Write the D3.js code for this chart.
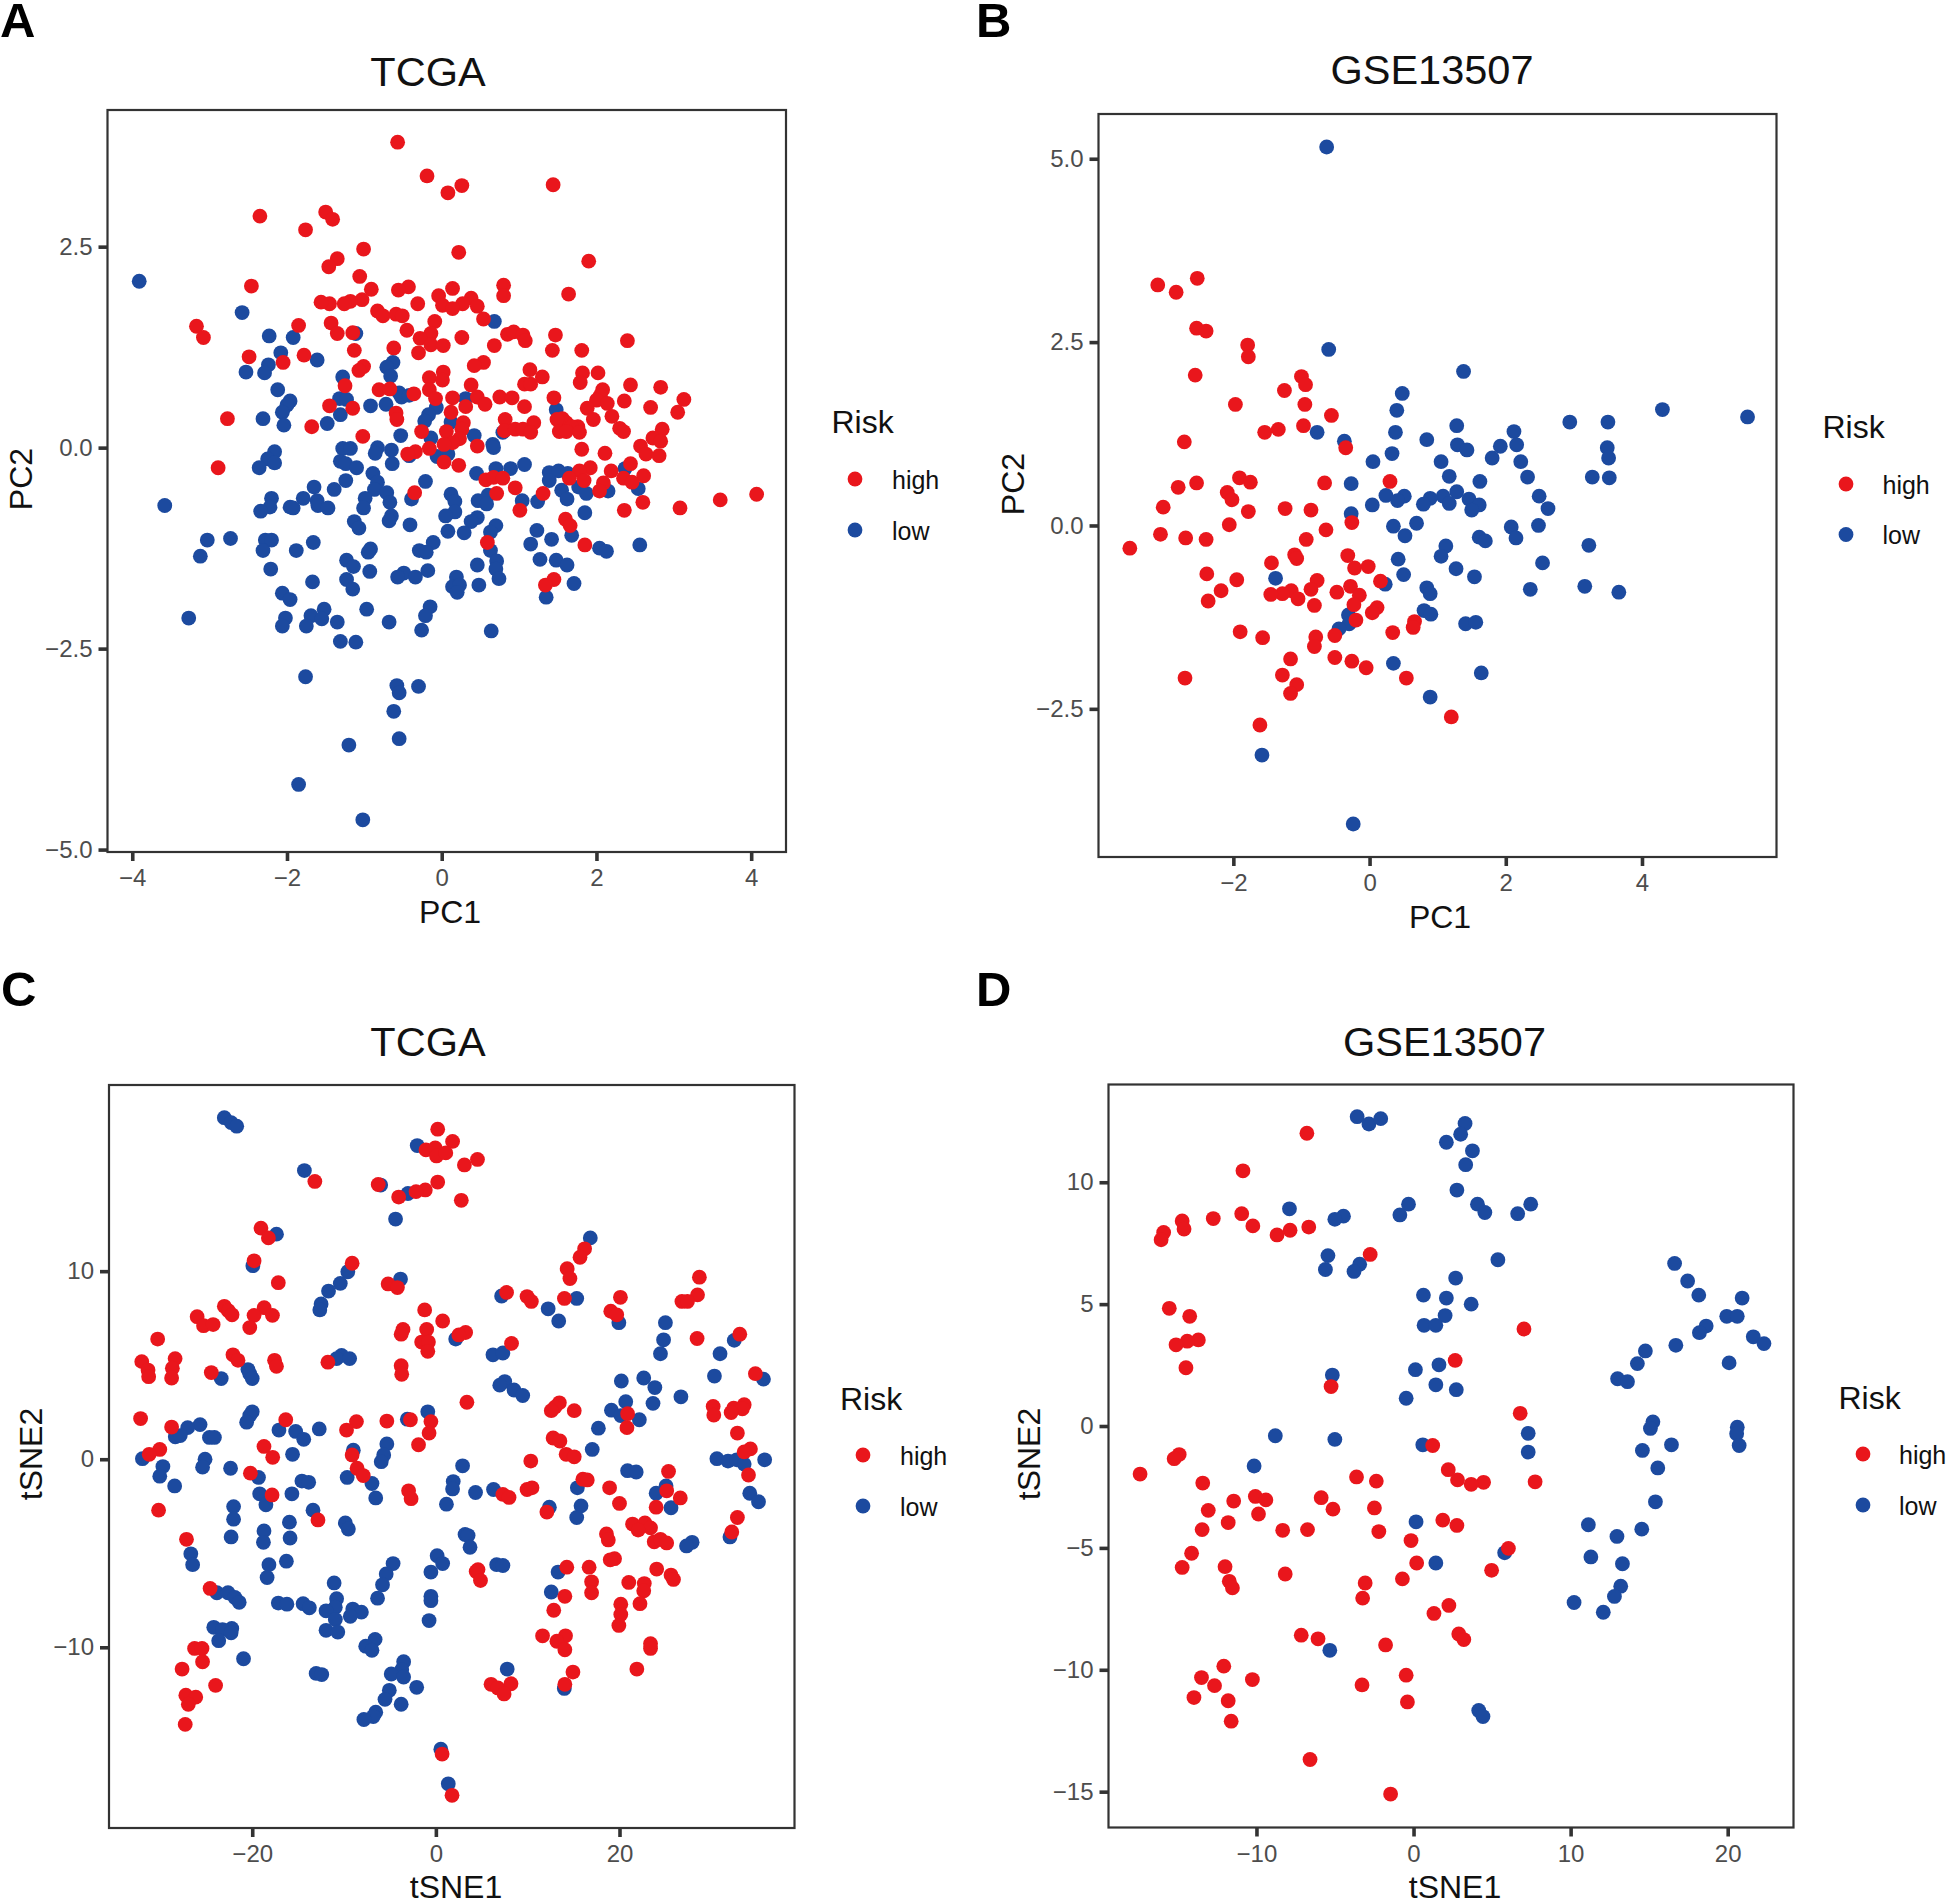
<!DOCTYPE html>
<html><head><meta charset="utf-8">
<script src="https://cdn.jsdelivr.net/npm/d3@7"></script>
<style>
html,body{margin:0;padding:0;background:#fff}
svg{display:block}
text{font-family:"Liberation Sans",Arial,sans-serif}
</style></head><body><div id="chart"></div>
<script>
const seriesNames = ["high","low"];
const colors = {high:"#E9161C", low:"#1C4A9F"};

const aHigh = [[-0.57,3.80],[-0.19,3.38],[0.08,3.17],[0.26,3.26],[1.44,3.27],[-1.50,2.93],[-1.41,2.84],[-2.35,2.88],[-1.76,2.71],[-1.01,2.47],[0.22,2.43],[1.90,2.32],[-1.35,2.35],[-1.46,2.25],[-1.06,2.13],[-2.46,2.01],[0.80,2.02],[0.80,1.89],[1.64,1.91],[-0.43,2.00],[-0.56,1.96],[-0.91,1.97],[0.14,1.98],[-0.04,1.89],[0.38,1.86],[0.46,1.76],[0.27,1.79],[0.01,1.77],[0.14,1.73],[-0.31,1.79],[-1.03,1.84],[-1.18,1.82],[-1.26,1.79],[-1.45,1.79],[-1.56,1.81],[-0.83,1.70],[-0.76,1.64],[-0.59,1.66],[-0.51,1.64],[0.54,1.60],[-0.09,1.57],[-1.43,1.55],[-1.85,1.52],[-3.17,1.51],[-3.08,1.37],[-0.45,1.46],[-1.35,1.42],[-1.15,1.43],[-0.14,1.42],[-0.28,1.36],[-0.14,1.28],[0.02,1.27],[0.26,1.37],[0.68,1.27],[0.85,1.41],[0.93,1.44],[1.05,1.40],[1.08,1.33],[1.47,1.40],[1.43,1.21],[1.81,1.21],[2.40,1.33],[-0.62,1.24],[-0.30,1.18],[-1.13,1.21],[-2.49,1.13],[-1.78,1.15],[-2.05,1.06],[0.54,1.06],[0.42,1.02],[-1.01,1.01],[-1.07,0.96],[0.02,0.94],[1.14,0.97],[1.82,0.93],[2.02,0.93],[-0.16,0.87],[0.01,0.84],[1.30,0.88],[1.07,0.79],[1.15,0.79],[1.79,0.81],[2.44,0.78],[2.83,0.75],[-1.25,0.77],[0.38,0.78],[-0.81,0.72],[-0.67,0.73],[-0.16,0.72],[-0.36,0.67],[2.08,0.72],[2.05,0.65],[0.75,0.63],[0.91,0.62],[0.46,0.63],[-0.08,0.61],[0.14,0.62],[1.45,0.62],[2.00,0.59],[2.14,0.55],[2.36,0.58],[3.13,0.60],[2.70,0.50],[0.56,0.54],[0.31,0.51],[-1.45,0.52],[-1.15,0.49],[1.07,0.51],[1.88,0.49],[0.12,0.44],[-0.59,0.43],[3.05,0.44],[2.20,0.39],[1.96,0.35],[-2.77,0.36],[-0.58,0.35],[0.82,0.35],[1.19,0.31],[1.56,0.36],[1.61,0.31],[1.49,0.35],[1.76,0.26],[1.68,0.26],[-1.68,0.26],[0.28,0.31],[0.26,0.23],[2.30,0.24],[2.35,0.20],[2.85,0.23],[0.81,0.21],[0.95,0.23],[1.05,0.23],[1.15,0.19],[1.52,0.20],[1.61,0.20],[1.78,0.19],[-0.26,0.20],[0.06,0.20],[-1.02,0.14],[0.23,0.11],[2.73,0.12],[2.83,0.08],[0.14,0.06],[0.03,0.04],[-0.16,-0.01],[0.46,0.02],[2.57,0.02],[1.81,-0.02],[-0.34,-0.05],[-0.44,-0.08],[2.11,-0.07],[2.64,-0.08],[2.81,-0.10],[0.03,-0.18],[0.22,-0.22],[-2.89,-0.25],[2.44,-0.20],[1.92,-0.25],[1.78,-0.29],[2.19,-0.29],[2.61,-0.35],[2.35,-0.38],[2.46,-0.43],[1.65,-0.38],[1.84,-0.41],[0.57,-0.40],[0.67,-0.37],[0.79,-0.38],[2.09,-0.44],[2.04,-0.54],[0.95,-0.50],[0.71,-0.57],[-0.35,-0.56],[1.31,-0.57],[3.60,-0.65],[4.07,-0.58],[3.08,-0.75],[2.60,-0.68],[2.36,-0.78],[1.01,-0.78],[1.60,-0.89],[1.66,-0.97],[0.59,-1.18],[1.85,-1.21],[1.45,-1.64],[1.34,-1.71]];

const aLow = [[-3.91,2.07],[-2.58,1.68],[-2.23,1.39],[-1.92,1.37],[-1.11,1.42],[0.68,1.57],[-2.08,1.18],[-2.24,1.03],[-2.29,0.93],[-2.53,0.94],[-1.61,1.09],[-1.28,0.88],[-0.63,1.06],[-0.71,1.00],[-0.66,0.89],[-2.12,0.72],[-1.32,0.61],[-1.23,0.60],[-0.55,0.68],[-0.52,0.63],[-0.42,0.65],[-1.96,0.58],[-2.00,0.53],[-2.06,0.44],[-0.92,0.52],[-0.72,0.54],[0.31,0.61],[-0.07,0.50],[-0.17,0.41],[-0.22,0.33],[0.12,0.32],[1.48,0.47],[-2.31,0.36],[-1.31,0.41],[-2.04,0.28],[-1.48,0.30],[-0.14,0.12],[-0.53,0.15],[0.42,0.15],[0.79,0.19],[0.66,0.04],[0.67,0.00],[-1.28,-0.01],[-1.18,-0.01],[-0.83,0.00],[-0.86,-0.07],[-0.65,-0.03],[-2.16,-0.05],[-2.25,-0.14],[-2.16,-0.19],[-2.36,-0.25],[-1.31,-0.17],[-1.24,-0.20],[-0.64,-0.20],[-0.42,-0.10],[-0.06,-0.11],[0.08,-0.08],[-1.10,-0.25],[1.07,-0.21],[0.89,-0.26],[0.70,-0.26],[0.45,-0.32],[-0.89,-0.32],[-1.24,-0.41],[-0.83,-0.43],[-0.21,-0.42],[1.39,-0.31],[1.51,-0.29],[1.63,-0.32],[1.39,-0.41],[2.37,-0.26],[-1.65,-0.49],[-1.39,-0.52],[-0.87,-0.52],[-0.71,-0.56],[1.55,-0.53],[1.77,-0.49],[1.87,-0.57],[2.15,-0.54],[2.54,-0.51],[-3.58,-0.72],[-2.20,-0.63],[-1.79,-0.63],[-1.61,-0.66],[-0.99,-0.63],[-0.67,-0.68],[-0.39,-0.64],[0.12,-0.58],[0.17,-0.67],[0.47,-0.66],[0.60,-0.59],[0.58,-0.70],[1.04,-0.66],[1.24,-0.67],[1.62,-0.64],[-2.22,-0.74],[-2.34,-0.79],[-1.96,-0.74],[-1.92,-0.75],[-1.60,-0.72],[-1.47,-0.75],[-1.01,-0.75],[0.17,-0.80],[0.05,-0.85],[0.46,-0.87],[1.85,-0.81],[-0.65,-0.85],[-0.68,-0.91],[-1.13,-0.92],[-0.41,-0.96],[-1.07,-1.00],[0.38,-0.92],[0.70,-0.97],[0.08,-1.04],[0.29,-1.06],[0.63,-1.05],[1.23,-1.03],[1.68,-1.09],[-3.03,-1.15],[-2.73,-1.13],[-2.28,-1.15],[-2.20,-1.15],[1.42,-1.14],[-0.11,-1.18],[-1.66,-1.18],[1.15,-1.20],[2.56,-1.21],[2.04,-1.25],[2.13,-1.29],[-2.31,-1.28],[-1.88,-1.28],[-0.92,-1.26],[-0.95,-1.30],[-0.29,-1.28],[-0.20,-1.30],[0.63,-1.28],[-3.12,-1.35],[1.27,-1.39],[1.48,-1.40],[0.71,-1.41],[-1.23,-1.40],[0.46,-1.46],[1.62,-1.46],[-1.14,-1.48],[-2.21,-1.51],[0.70,-1.51],[-0.93,-1.54],[-0.18,-1.53],[-0.49,-1.56],[-0.57,-1.61],[-0.34,-1.61],[0.19,-1.61],[0.74,-1.63],[-1.23,-1.64],[-1.67,-1.67],[1.71,-1.69],[0.48,-1.71],[0.14,-1.73],[0.23,-1.71],[-1.15,-1.76],[0.20,-1.80],[-2.06,-1.81],[-1.96,-1.89],[1.35,-1.86],[-0.15,-1.98],[-1.52,-2.01],[-0.97,-2.01],[-0.21,-2.09],[-1.69,-2.09],[-3.27,-2.12],[-2.02,-2.12],[-1.55,-2.13],[-1.35,-2.17],[-0.68,-2.17],[-2.06,-2.22],[-1.75,-2.22],[-0.26,-2.27],[0.64,-2.28],[-1.31,-2.41],[-1.11,-2.42],[-1.76,-2.85],[-0.58,-2.96],[-0.30,-2.97],[-0.55,-3.05],[-0.62,-3.28],[-0.55,-3.62],[-1.20,-3.70],[-1.85,-4.19],[-1.02,-4.63]];

const bHigh = [[-2.53,3.37],[-3.11,3.28],[-2.84,3.18],[-2.54,2.69],[-2.40,2.65],[-1.79,2.46],[-1.78,2.30],[-2.56,2.05],[-1.00,2.03],[-0.94,1.92],[-1.25,1.84],[-0.95,1.65],[-1.97,1.65],[-0.56,1.50],[-0.97,1.36],[-1.34,1.31],[-1.54,1.27],[-2.72,1.14],[-0.35,1.06],[-1.91,0.65],[-1.75,0.59],[-2.54,0.58],[-2.81,0.52],[-0.66,0.58],[0.30,0.60],[-2.09,0.45],[-2.02,0.35],[-3.03,0.25],[-1.24,0.23],[-0.86,0.21],[-1.78,0.19],[-2.06,0.01],[-0.26,0.04],[-0.64,-0.06],[-3.07,-0.12],[-2.70,-0.17],[-2.40,-0.19],[-0.93,-0.19],[-3.52,-0.31],[-1.10,-0.40],[-1.07,-0.45],[-0.32,-0.41],[-1.44,-0.51],[-0.02,-0.56],[-0.22,-0.58],[-2.39,-0.66],[-1.95,-0.74],[-0.77,-0.75],[0.16,-0.76],[-0.28,-0.83],[-2.18,-0.89],[-0.86,-0.87],[-1.15,-0.89],[-0.48,-0.91],[-1.28,-0.93],[-1.45,-0.94],[-0.15,-0.95],[-1.05,-1.00],[-2.37,-1.03],[-0.23,-1.08],[-0.81,-1.09],[0.11,-1.12],[0.04,-1.19],[-0.20,-1.29],[0.66,-1.31],[0.64,-1.39],[-1.90,-1.45],[0.34,-1.46],[-1.57,-1.53],[-0.51,-1.50],[-0.79,-1.52],[-0.81,-1.65],[-0.51,-1.80],[-1.16,-1.82],[-0.26,-1.85],[-0.05,-1.94],[-1.28,-2.04],[0.54,-2.08],[-2.71,-2.08],[-1.07,-2.17],[-1.16,-2.29],[1.20,-2.61],[-1.61,-2.72]];

const bLow = [[-0.63,5.16],[-0.60,2.40],[1.38,2.10],[0.48,1.80],[0.40,1.57],[4.30,1.58],[5.55,1.48],[2.94,1.41],[3.50,1.41],[1.28,1.36],[-0.77,1.27],[0.38,1.27],[2.12,1.28],[-0.37,1.15],[0.84,1.17],[1.29,1.10],[2.16,1.10],[1.92,1.08],[1.43,1.03],[3.49,1.06],[0.33,0.98],[1.80,0.92],[3.51,0.92],[0.05,0.87],[1.05,0.87],[2.22,0.87],[1.17,0.67],[2.32,0.66],[3.27,0.66],[3.52,0.65],[1.62,0.60],[-0.27,0.57],[1.28,0.46],[0.24,0.41],[0.51,0.40],[1.08,0.40],[0.89,0.37],[2.49,0.40],[0.41,0.34],[1.46,0.36],[0.79,0.29],[1.17,0.30],[0.04,0.28],[1.61,0.28],[1.50,0.21],[2.62,0.23],[-0.27,0.16],[0.69,0.03],[0.35,-0.01],[2.08,-0.02],[2.48,0.00],[0.52,-0.14],[1.61,-0.16],[2.15,-0.17],[1.70,-0.21],[3.22,-0.27],[1.12,-0.28],[1.05,-0.42],[0.42,-0.46],[2.54,-0.51],[1.27,-0.59],[0.50,-0.67],[1.54,-0.70],[-1.38,-0.72],[0.23,-0.80],[3.16,-0.83],[0.84,-0.85],[2.36,-0.87],[0.89,-0.93],[3.66,-0.91],[0.80,-1.16],[0.90,-1.21],[-0.31,-1.22],[-0.30,-1.34],[1.41,-1.34],[1.56,-1.32],[-0.45,-1.41],[0.35,-1.88],[1.64,-2.01],[0.89,-2.34],[-1.58,-3.13],[-0.24,-4.07]];

const cHigh = [[0.2,17.55],[1.82,16.9],[-1.08,16.45],[-0.07,16.55],[0.07,16.13],[1.08,16.29],[4.53,15.94],[3.11,15.65],[-13.18,14.77],[-6.28,14.61],[0.2,14.74],[-1.15,14.32],[-2.16,14.23],[-4.05,13.94],[2.77,13.77],[-19.05,12.29],[-18.24,11.77],[16.2,11.19],[15.7,10.74],[-19.8,10.55],[-9.12,10.42],[14.3,10.13],[14.6,9.61],[28.7,9.68],[-17.16,9.39],[-5.2,9.32],[-4.19,9.13],[7.7,8.87],[9.93,8.65],[10.4,8.39],[14.0,8.55],[20.1,8.61],[28.5,8.74],[26.8,8.39],[27.4,8.39],[-1.22,7.94],[-23.04,8.13],[-22.6,7.9],[-22.2,7.68],[-18.7,8.06],[-17.8,7.65],[-19.8,7.65],[19.05,7.87],[19.7,7.68],[-26.0,7.58],[-25.3,7.1],[-24.26,7.16],[-20.27,7.0],[0.74,7.35],[-1.0,6.9],[-3.58,6.9],[-3.78,6.65],[3.24,6.74],[2.5,6.61],[33.1,6.65],[28.45,6.42],[-30.3,6.39],[8.24,6.16],[-1.55,6.23],[-0.81,6.23],[-0.88,5.74],[-22.1,5.55],[-21.55,5.26],[-32.03,5.19],[-28.4,5.35],[-17.57,5.26],[-17.36,4.94],[-11.76,5.16],[-28.7,4.84],[-31.35,4.74],[-3.78,4.97],[-3.72,4.52],[-24.46,4.61],[34.8,4.55],[-31.28,4.39],[-28.78,4.32],[3.38,3.03],[30.2,2.81],[13.45,3.0],[12.97,2.77],[12.57,2.58],[15.07,2.58],[33.58,2.9],[32.43,2.71],[33.38,2.68],[32.16,2.48],[30.27,2.35],[-32.16,2.16],[20.88,2.42],[-16.35,2.1],[-8.65,2.0],[-5.34,2.03],[-2.77,2.1],[-0.54,2.0],[-28.78,1.71],[-9.73,1.55],[20.81,1.68],[-0.74,1.39],[32.84,1.39],[12.77,1.13],[13.51,0.97],[-18.72,0.68],[-1.89,0.77],[-30.07,0.52],[34.26,0.55],[33.58,0.39],[-31.22,0.26],[-9.12,0.23],[14.19,0.26],[15.07,0.13],[-17.77,0.1],[10.34,-0.1],[-8.58,-0.48],[-7.91,-0.87],[-20.2,-0.74],[25.34,-0.65],[34.05,-0.84],[16.01,-1.06],[16.49,-1.1],[18.92,-1.52],[25.14,-1.68],[9.93,-1.61],[10.47,-1.52],[7.3,-1.87],[7.97,-2.03],[-2.97,-1.68],[-2.7,-2.1],[-17.84,-1.9],[26.62,-2.06],[20.0,-2.35],[23.99,-2.55],[-30.2,-2.71],[12.09,-2.81],[32.84,-3.1],[-12.84,-3.23],[21.42,-3.45],[22.77,-3.39],[23.38,-3.65],[22.03,-3.77],[32.23,-3.87],[18.58,-3.97],[18.78,-4.29],[23.78,-4.39],[24.46,-4.26],[25.14,-4.45],[-27.16,-4.26],[19.46,-5.29],[18.99,-5.35],[14.26,-5.74],[16.69,-5.74],[24.05,-5.84],[4.39,-5.97],[4.59,-5.87],[25.61,-6.16],[25.88,-6.39],[4.86,-6.45],[16.96,-6.52],[21.01,-6.55],[22.7,-6.61],[-24.59,-6.87],[22.64,-7.0],[16.96,-7.1],[14.05,-7.29],[22.23,-7.68],[20.14,-7.71],[12.84,-8.03],[20.14,-8.26],[19.93,-8.84],[11.62,-9.39],[14.12,-9.39],[13.18,-9.68],[23.38,-9.81],[-26.28,-10.06],[-25.47,-10.06],[23.38,-10.06],[14.05,-10.13],[-25.41,-10.77],[-27.64,-11.16],[21.89,-11.16],[14.93,-11.32],[-23.99,-12.03],[6.01,-11.97],[8.18,-11.94],[6.76,-12.16],[14.05,-11.97],[7.43,-12.48],[-27.23,-12.55],[-26.15,-12.65],[-26.96,-13.03],[-27.3,-14.1],[0.68,-15.68],[1.76,-17.87]];

const cLow = [[-23.04,18.16],[-22.3,17.9],[-21.69,17.71],[-2.03,16.68],[-14.32,15.35],[-6.01,14.58],[-3.04,14.13],[-4.39,12.77],[-17.36,11.97],[16.82,11.77],[-19.93,10.29],[-9.59,9.97],[-3.85,9.58],[-10.41,9.35],[-11.69,8.94],[7.16,8.68],[15.34,8.55],[-12.5,8.26],[-12.64,7.94],[12.23,8.0],[13.38,7.35],[25.0,7.26],[19.93,7.26],[24.8,6.35],[2.16,6.39],[32.5,6.32],[24.46,5.61],[30.95,5.61],[6.22,5.55],[7.3,5.65],[-10.27,5.52],[-10.81,5.35],[-9.39,5.35],[-20.47,4.77],[-20.27,4.55],[-20.0,4.29],[30.34,4.42],[-23.38,4.29],[35.68,4.26],[22.64,4.32],[20.2,4.16],[7.5,4.13],[6.96,3.94],[8.51,3.68],[9.46,3.39],[23.85,3.81],[26.69,3.32],[23.65,2.97],[20.68,3.06],[19.12,2.61],[-0.88,2.52],[20.14,2.32],[-20.0,2.52],[-20.27,2.32],[-20.61,1.97],[22.16,2.1],[-3.11,2.13],[-25.68,1.84],[-27.03,1.68],[17.7,1.65],[-12.7,1.61],[-15.27,1.48],[-17.09,1.55],[-14.39,1.06],[-28.38,1.19],[-27.84,1.26],[-24.66,1.16],[-24.12,1.16],[-5.34,0.81],[-8.99,0.48],[17.03,0.52],[-15.61,0.26],[-5.68,0.23],[-5.95,-0.13],[30.61,0.03],[31.82,-0.1],[32.77,-0.03],[33.58,-0.26],[35.81,-0.03],[-31.96,0.03],[-25.14,0],[-25.41,-0.42],[-29.73,-0.39],[-22.36,-0.48],[2.91,-0.35],[20.88,-0.61],[21.82,-0.68],[-30.07,-0.9],[-19.32,-0.97],[-9.66,-0.97],[-14.59,-1.16],[-13.85,-1.23],[1.89,-1.19],[-6.96,-1.29],[-28.45,-1.42],[25.07,-1.42],[1.82,-1.58],[15.41,-1.52],[6.28,-1.61],[4.32,-1.77],[-15.68,-1.84],[-19.19,-1.84],[23.99,-1.81],[34.19,-1.81],[-6.55,-2.06],[35.14,-2.26],[-18.51,-2.42],[1.15,-2.39],[-22.03,-2.52],[12.36,-2.55],[15.81,-2.48],[25.61,-2.58],[-13.38,-2.71],[15.34,-3.1],[-22.03,-3.19],[-15.95,-3.35],[-9.86,-3.39],[-9.53,-3.71],[-18.72,-3.81],[3.18,-4.0],[3.51,-4.06],[-22.3,-4.13],[-15.88,-4.19],[32.03,-4.13],[-18.78,-4.42],[27.91,-4.42],[27.3,-4.61],[3.72,-4.68],[-26.69,-5.03],[0.14,-5.13],[0.74,-5.55],[-26.49,-5.61],[-18.18,-5.61],[-16.28,-5.42],[-4.66,-5.55],[6.62,-5.61],[7.3,-5.65],[-5.41,-6.1],[13.31,-6.0],[-0.54,-6.0],[-18.38,-6.29],[-11.08,-6.58],[-5.81,-6.68],[-23.85,-7.1],[-22.64,-7.1],[12.57,-7.06],[-21.89,-7.35],[-0.54,-7.29],[-10.81,-7.42],[-6.35,-7.39],[-21.42,-7.61],[-0.54,-7.52],[-17.16,-7.65],[-16.22,-7.71],[-14.46,-7.68],[-13.78,-7.9],[-10.95,-7.87],[-11.96,-8.06],[-9.05,-7.97],[-8.11,-8.13],[-9.32,-8.35],[-10.95,-8.52],[-0.74,-8.58],[-24.19,-8.94],[-22.23,-9.0],[-23.24,-9.06],[-22.3,-9.23],[-11.96,-9.1],[-10.68,-9.19],[-23.65,-9.65],[-6.62,-9.58],[-7.64,-9.94],[-6.96,-10.16],[-20.95,-10.61],[-3.51,-10.77],[-3.72,-11.19],[7.77,-11.16],[-4.86,-11.42],[-3.51,-11.58],[-13.04,-11.39],[-12.43,-11.45],[-2.09,-12.13],[-5.07,-12.29],[13.99,-12.19],[-5.54,-12.77],[-3.78,-13.03],[-6.55,-13.45],[-6.82,-13.68],[-7.84,-13.84],[0.54,-15.42],[1.35,-17.26]];

const dHigh = [[-6.79,12.01],[-10.86,10.47],[-10.94,8.71],[-12.75,8.51],[-14.73,8.41],[-14.61,8.08],[-10.23,8.21],[-6.67,8.16],[-7.86,8.03],[-8.69,7.84],[-15.91,7.94],[-16.07,7.64],[-2.76,7.04],[-15.55,4.83],[-14.25,4.50],[7.03,3.98],[-13.7,3.53],[-14.41,3.48],[-15.12,3.33],[2.65,2.69],[-14.49,2.39],[-5.25,1.62],[6.79,0.52],[1.22,-0.8],[-14.92,-1.17],[-15.24,-1.34],[-17.41,-1.97],[2.21,-1.79],[-3.63,-2.09],[-2.37,-2.26],[2.8,-2.21],[4.46,-2.31],[3.67,-2.39],[7.74,-2.29],[-13.42,-2.34],[-10.07,-2.89],[-9.4,-3.03],[-11.45,-3.08],[-5.88,-2.94],[-2.49,-3.36],[-5.13,-3.41],[-13.07,-3.46],[-9.87,-3.61],[1.86,-3.86],[2.76,-4.08],[-11.8,-3.96],[-13.46,-4.25],[-8.33,-4.28],[-6.75,-4.25],[-2.21,-4.33],[-0.16,-4.7],[6.04,-5.02],[-14.13,-5.22],[0.2,-5.62],[-12.0,-5.77],[-14.73,-5.8],[4.97,-5.92],[-8.17,-6.07],[-0.71,-6.27],[-11.73,-6.37],[-11.53,-6.64],[-3.08,-6.44],[-3.24,-7.06],[2.25,-7.36],[1.3,-7.69],[2.88,-8.53],[3.2,-8.76],[-7.15,-8.58],[-6.08,-8.73],[-1.78,-8.98],[-12.08,-9.85],[-13.5,-10.32],[-10.26,-10.4],[-0.47,-10.22],[-12.67,-10.65],[-3.28,-10.62],[-13.98,-11.14],[-11.8,-11.27],[-0.39,-11.32],[-11.61,-12.11],[-6.59,-13.68],[-1.46,-15.1]];

const dLow = [[-3.59,12.69],[-2.84,12.39],[-2.09,12.61],[3.28,12.41],[3.0,11.97],[2.09,11.64],[3.75,11.29],[3.32,10.72],[2.76,9.68],[7.46,9.1],[4.07,9.1],[-0.32,9.1],[4.54,8.76],[6.63,8.71],[-0.87,8.66],[-7.9,8.91],[-4.46,8.61],[-5.01,8.48],[-5.45,6.99],[5.37,6.82],[16.62,6.67],[-3.43,6.64],[-5.61,6.42],[-3.79,6.34],[2.68,6.07],[17.45,5.95],[0.63,5.37],[18.16,5.37],[2.09,5.25],[20.92,5.25],[3.67,5.0],[19.94,4.5],[20.61,4.5],[2.01,4.53],[0.67,4.13],[1.42,4.13],[18.63,4.1],[18.2,3.83],[21.63,3.66],[22.31,3.38],[16.7,3.31],[14.76,3.08],[14.25,2.56],[20.09,2.59],[1.62,2.51],[0.12,2.31],[-5.17,2.09],[12.99,1.94],[13.62,1.82],[1.42,1.69],[2.72,1.49],[-0.47,1.14],[15.24,0.17],[15.08,-0.1],[20.61,-0.05],[20.57,-0.32],[7.3,-0.3],[-8.8,-0.4],[-5.01,-0.55],[0.59,-0.77],[16.42,-0.77],[20.73,-0.8],[14.57,-1.0],[7.3,-1.07],[-10.15,-1.64],[15.55,-1.72],[15.4,-3.11],[0.16,-3.93],[11.13,-4.05],[14.53,-4.23],[12.95,-4.53],[5.8,-5.2],[11.29,-5.37],[1.42,-5.62],[13.3,-5.65],[13.19,-6.57],[12.79,-6.99],[10.22,-7.24],[12.08,-7.64],[-5.33,-9.2],[4.15,-11.67],[4.42,-11.92]];

const pcaTicksAx = [-4,-2,0,2,4], pcaTicksAy = [-5,-2.5,0,2.5];
const pcaTicksBx = [-2,0,2,4], pcaTicksBy = [-2.5,0,2.5,5];
const tsneTicksCx = [-20,0,20], tsneTicksCy = [-10,0,10];
const tsneTicksDx = [-10,0,10,20], tsneTicksDy = [-15,-10,-5,0,5,10];

const panels = [
 {letter:"A",lx:0,ly:37,title:"TCGA",tx:428,ty:86,high:aHigh,low:aLow,xt:pcaTicksAx,yt:pcaTicksAy,xf:d3.format("d"),yf:d3.format(".1f"),
  box:[107.5,786,110,852],xd:[-4.32,4.45],yd:[-5.03,4.20],xl:"PC1",xlx:450,xly:923,yl:"PC2",ylx:32,yly:479,
  rx:831.5,ry:433,cx:855,c1:479,c2:530,lbx:892},
 {letter:"B",lx:976,ly:37,title:"GSE13507",tx:1432,ty:84,high:bHigh,low:bLow,xt:pcaTicksBx,yt:pcaTicksBy,xf:d3.format("d"),yf:d3.format(".1f"),
  box:[1098.5,1776.5,114,857],xd:[-3.98,5.975],yd:[-4.52,5.61],xl:"PC1",xlx:1440,xly:928,yl:"PC2",ylx:1024,yly:484,
  rx:1822.5,ry:438,cx:1846,c1:484,c2:534.5,lbx:1882.5},
 {letter:"C",lx:1,ly:1006,title:"TCGA",tx:428,ty:1056,high:cHigh,low:cLow,xt:tsneTicksCx,yt:tsneTicksCy,xf:d3.format("d"),yf:d3.format("d"),
  box:[109,794.5,1085,1828],xd:[-35.6,39.06],yd:[-19.61,19.9],xl:"tSNE1",xlx:456,xly:1898,yl:"tSNE2",ylx:42,yly:1454,
  rx:840,ry:1410,cx:863,c1:1455,c2:1506,lbx:900},
 {letter:"D",lx:976,ly:1006,title:"GSE13507",tx:1444.5,ty:1056,high:dHigh,low:dLow,xt:tsneTicksDx,yt:tsneTicksDy,xf:d3.format("d"),yf:d3.format("d"),
  box:[1108.5,1793.5,1084.5,1827.5],xd:[-19.42,24.19],yd:[-16.47,14.01],xl:"tSNE1",xlx:1455,xly:1898,yl:"tSNE2",ylx:1040,yly:1454,
  rx:1838.5,ry:1409,cx:1863,c1:1454,c2:1505,lbx:1899}
];

const svg = d3.select("#chart").append("svg").attr("width",1946).attr("height",1902);
const R = 7.4;

panels.forEach(p=>{
  const [x0,x1,y0,y1] = p.box;
  const x = d3.scaleLinear().domain(p.xd).range([x0,x1]);
  const y = d3.scaleLinear().domain(p.yd).range([y1,y0]);
  const g = svg.append("g");

  g.append("text").attr("x",p.lx).attr("y",p.ly).attr("font-size",49).attr("font-weight","bold").attr("fill","#000").text(p.letter);
  g.append("text").attr("x",p.tx).attr("y",p.ty).attr("text-anchor","middle").attr("font-size",41.5).attr("fill","#111").text(p.title);

  const xAxis = g.append("g").attr("transform",`translate(0,${y1})`)
    .call(d3.axisBottom(x).tickValues(p.xt).tickFormat(p.xf).tickSize(9).tickPadding(8));
  const yAxis = g.append("g").attr("transform",`translate(${x0},0)`)
    .call(d3.axisLeft(y).tickValues(p.yt).tickFormat(p.yf).tickSize(9).tickPadding(6));
  [xAxis,yAxis].forEach(a=>{
    a.select(".domain").remove();
    a.selectAll(".tick line").attr("stroke","#333").attr("stroke-width",3.6);
    a.selectAll(".tick text").attr("fill","#4D4D4D").attr("font-size",24).attr("font-family",'"Liberation Sans",Arial,sans-serif');
  });

  const clipId = "clip"+p.letter;
  g.append("clipPath").attr("id",clipId).append("rect").attr("x",x0).attr("y",y0).attr("width",x1-x0).attr("height",y1-y0);
  const marks = g.append("g").attr("clip-path",`url(#${clipId})`);
  seriesNames.slice().reverse().forEach(s=>{
    marks.append("g").selectAll("circle").data(p[s]).join("circle")
      .attr("cx",d=>x(d[0])).attr("cy",d=>y(d[1])).attr("r",R).attr("fill",colors[s]);
  });

  g.append("rect").attr("x",x0).attr("y",y0).attr("width",x1-x0).attr("height",y1-y0)
    .attr("fill","none").attr("stroke","#333").attr("stroke-width",2.2);

  g.append("text").attr("x",p.xlx).attr("y",p.xly).attr("text-anchor","middle").attr("font-size",32).attr("fill","#111").text(p.xl);
  g.append("text").attr("transform",`translate(${p.ylx},${p.yly}) rotate(-90)`).attr("text-anchor","middle").attr("font-size",32).attr("fill","#111").text(p.yl);

  g.append("text").attr("x",p.rx).attr("y",p.ry).attr("font-size",32).attr("fill","#111").text("Risk");
  seriesNames.forEach((s,i)=>{
    const cy = i===0?p.c1:p.c2;
    g.append("circle").attr("cx",p.cx).attr("cy",cy).attr("r",R).attr("fill",colors[s]);
    g.append("text").attr("x",p.lbx).attr("y",cy+1).attr("dy","0.34em").attr("font-size",25).attr("fill","#111").text(s);
  });
});
</script></body></html>
